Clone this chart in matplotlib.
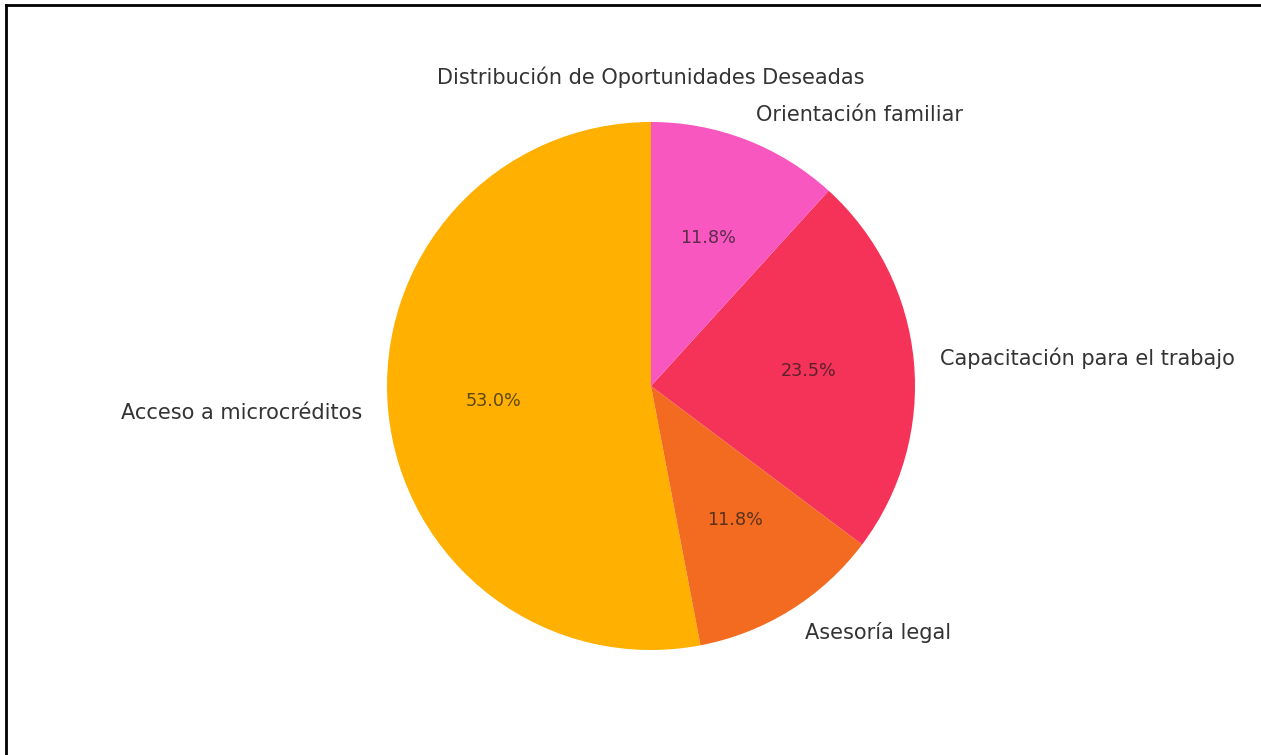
import matplotlib
matplotlib.use("Agg")
import matplotlib.pyplot as plt
from matplotlib.lines import Line2D

categories = ["Acceso a microcréditos", "Asesoría legal", "Capacitación para el trabajo", "Orientación familiar"]
values = [53.0, 11.75, 23.5, 11.75]
colors = ["#FFB000", "#F26B21", "#F53257", "#F857C0"]
title = "Distribución de Oportunidades Deseadas"

W, H = 1261, 755
fig = plt.figure(figsize=(W / 100, H / 100), dpi=100)
fig.patch.set_facecolor("white")

cx, cy, r = 651, 386, 264
ax = fig.add_axes([(cx - r) / W, (H - cy - r) / H, 2 * r / W, 2 * r / H])
wedges, texts, autotexts = ax.pie(values, labels=categories, colors=colors, startangle=90,
                                  autopct="%1.1f%%", counterclock=True,
                                  textprops={"color": "#333333", "fontsize": 15})
for t in autotexts:
    t.set_fontsize(12.7)
    t.set_color("#1a1a1a")
    t.set_alpha(0.7)
ax.set_xlim(-1, 1)
ax.set_ylim(-1, 1)
ax.set_aspect("equal")
ax.axis("off")

fig.text(651 / W, 1 - 77 / H, title, ha="center", va="center", fontsize=15, color="#333333")

# frame lines at top and left (screenshot border)
fig.add_artist(Line2D([6 / W, 6 / W], [0, 1 - 5 / H], color="black", lw=2, transform=fig.transFigure))
fig.add_artist(Line2D([6 / W, 1], [1 - 5 / H, 1 - 5 / H], color="black", lw=2, transform=fig.transFigure))

fig.savefig("out.png", dpi=100)
